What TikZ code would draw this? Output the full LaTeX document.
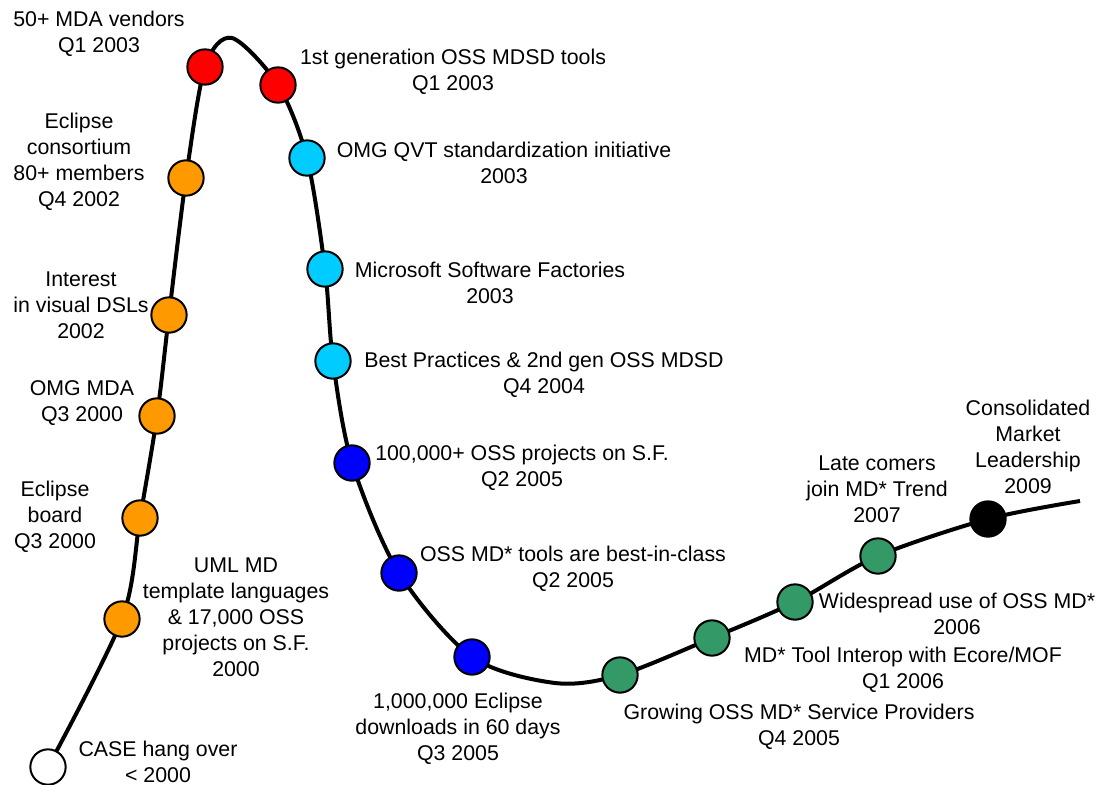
\documentclass[tikz,border=0pt]{standalone}
\usepackage{fontspec}
\setmainfont{Liberation Sans}
\definecolor{mdred}{HTML}{FF0000}
\definecolor{mdorange}{HTML}{FF9900}
\definecolor{mdcyan}{HTML}{00CCFF}
\definecolor{mdblue}{HTML}{0000FF}
\definecolor{mdgreen}{HTML}{339966}
\begin{document}
\begin{tikzpicture}[x=0.75pt,y=-0.75pt,
  dot/.style={circle,draw=black,line width=1.5pt,minimum size=26.5pt,inner sep=0pt},
  lbl/.style={align=center,font=\fontsize{16}{19.5}\selectfont,inner sep=0pt},
  hype/.style={line width=3pt,line join=round}]
\useasboundingbox (0,0) rectangle (1099,785);
% points on the curve
\coordinate (c0) at (48,767);
\coordinate (c1) at (122,619);
\coordinate (c2) at (140,518);
\coordinate (c3) at (157,416);
\coordinate (c4) at (169,315);
\coordinate (c5) at (186,178);
\coordinate (c6) at (205,67);
\coordinate (top) at (232,38);
\coordinate (c7) at (278,85);
\coordinate (c8) at (307,158);
\coordinate (c9) at (325,269);
\coordinate (c10) at (333,361);
\coordinate (c11) at (352,463);
\coordinate (c12) at (399,573);
\coordinate (c13) at (472,657);
\coordinate (low) at (555,683);
\coordinate (c14) at (620,675);
\coordinate (c15) at (712,638);
\coordinate (c16) at (795,602);
\coordinate (c17) at (878,556);
\coordinate (c18) at (988,519);
\coordinate (cend) at (1080,501);
\draw[hype] plot[smooth,tension=0.5] coordinates {(c0) (c1) (c2) (c3) (c4) (c5) (c6) (top) (c7) (c8) (c9) (c10) (c11) (c12) (c13) (low) (c14) (c15) (c16) (c17) (c18) (cend)};
% milestones
\node[dot,fill=white] (n0) at (c0) {};
\node[dot,fill=mdorange] (n1) at (c1) {};
\node[dot,fill=mdorange] (n2) at (c2) {};
\node[dot,fill=mdorange] (n3) at (c3) {};
\node[dot,fill=mdorange] (n4) at (c4) {};
\node[dot,fill=mdorange] (n5) at (c5) {};
\node[dot,fill=mdred] (n6) at (c6) {};
\node[dot,fill=mdred] (n7) at (c7) {};
\node[dot,fill=mdcyan] (n8) at (c8) {};
\node[dot,fill=mdcyan] (n9) at (c9) {};
\node[dot,fill=mdcyan] (n10) at (c10) {};
\node[dot,fill=mdblue] (n11) at (c11) {};
\node[dot,fill=mdblue] (n12) at (c12) {};
\node[dot,fill=mdblue] (n13) at (c13) {};
\node[dot,fill=mdgreen] (n14) at (c14) {};
\node[dot,fill=mdgreen] (n15) at (c15) {};
\node[dot,fill=mdgreen] (n16) at (c16) {};
\node[dot,fill=mdgreen] (n17) at (c17) {};
\node[dot,fill=black] (n18) at (c18) {};
% labels
\node[lbl] (l0) at (158,762) {CASE hang over\\< 2000};
\node[lbl] (l1) at (236,617) {UML MD\\template languages\\\& 17,000 OSS\\projects on S.F.\\2000};
\node[lbl] (l2) at (55,517) {Eclipse\\board\\Q3 2000};
\node[lbl] (l3) at (82,403) {OMG MDA\\Q3 2000};
\node[lbl] (l4) at (81,305) {Interest\\in visual DSLs\\2002};
\node[lbl] (l5) at (79,162) {Eclipse\\consortium\\80+ members\\Q4 2002};
\node[lbl] (l6) at (99,34) {50+ MDA vendors\\Q1 2003};
\node[lbl] (l7) at (453,72) {1st generation OSS MDSD tools\\Q1 2003};
\node[lbl] (l8) at (504,163) {OMG QVT standardization initiative\\2003};
\node[lbl] (l9) at (490,283) {Microsoft Software Factories\\2003};
\node[lbl] (l10) at (544,375) {Best Practices \& 2nd gen OSS MDSD\\Q4 2004};
\node[lbl] (l11) at (522,468) {100,000+ OSS projects on S.F.\\Q2 2005};
\node[lbl] (l12) at (573,569) {OSS MD* tools are best-in-class\\Q2 2005};
\node[lbl] (l13) at (458,729) {1,000,000 Eclipse\\downloads in 60 days\\Q3 2005};
\node[lbl] (l14) at (799,727) {Growing OSS MD* Service Providers\\Q4 2005};
\node[lbl] (l15) at (903,670) {MD* Tool Interop with Ecore/MOF\\Q1 2006};
\node[lbl] (l16) at (957,614) {Widespread use of OSS MD*\\2006};
\node[lbl] (l17) at (877,489) {Late comers\\join MD* Trend\\2007};
\node[lbl] (l18) at (1028,447) {Consolidated\\Market\\Leadership\\2009};
\end{tikzpicture}
\end{document}
